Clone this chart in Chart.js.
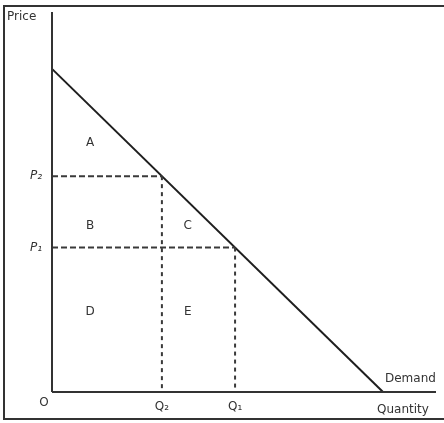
<!DOCTYPE html>
<html>
<head>
<meta charset="utf-8">
<script src="https://cdn.jsdelivr.net/npm/chart.js@4"></script>
<style>
  html,body{margin:0;padding:0;background:#fff;}
  #wrap{width:444px;height:423px;position:relative;}
</style>
</head>
<body>
<div id="wrap"><canvas id="c" width="444" height="423"></canvas></div>
<script>
// ====== データ ======
const demandQ = [0, 10];
const demandP = [10, 0];
const Q2 = 3.32, Q1 = 5.53;
const P2 = 6.68, P1 = 4.47;
const xMax = 11.6, yMax = 11.76;
const xTickValues = [Q2, Q1];
const xTickLabels = ['Q₂', 'Q₁'];
const yTickValues = [P2, P1];
const yTickLabels = ['P₂', 'P₁'];
const areaLabels = ['A', 'B', 'C', 'D', 'E'];
const areaQ = [1.15, 1.15, 4.1, 1.15, 4.1];
const areaP = [7.7, 5.13, 5.13, 2.47, 2.47];

const pts = (xs, ys) => xs.map((x, i) => ({ x, y: ys[i] }));
const line = { borderWidth:2, pointRadius:0, showLine:true, fill:false, clip:false };
const dashH = { ...line, borderColor:'#3a3a3a', borderDash:[6,3] };
const dashV = { ...line, borderColor:'#3a3a3a', borderDash:[4,4] };

// 枠と文字
const labelPlugin = {
  id:'labels',
  beforeDraw(chart){
    const ctx = chart.ctx;
    ctx.save();
    ctx.strokeStyle = '#333';
    ctx.lineWidth = 2;
    ctx.strokeRect(4, 6, 470, 413);
    ctx.restore();
  },
  afterDraw(chart){
    const { ctx, scales:{ x, y } } = chart;
    ctx.save();
    ctx.fillStyle = '#333';
    ctx.textBaseline = 'middle';
    ctx.font = '12px "DejaVu Sans"';
    ctx.textAlign = 'left';
    ctx.fillText('Price', 7, 17);
    ctx.textAlign = 'center';
    ctx.fillText('O', 44, 403);
    xTickValues.forEach((v, i) => ctx.fillText(xTickLabels[i], x.getPixelForValue(v), 407));
    ctx.font = 'italic 12px "DejaVu Sans"';
    yTickValues.forEach((v, i) => ctx.fillText(yTickLabels[i], 36, y.getPixelForValue(v)));
    ctx.font = '12px "DejaVu Sans"';
    areaLabels.forEach((t, i) => ctx.fillText(t, x.getPixelForValue(areaQ[i]), y.getPixelForValue(areaP[i])));
    ctx.textAlign = 'left';
    ctx.fillText('Demand', 385, 379);
    ctx.fillText('Quantity', 377, 410);
    ctx.restore();
  }
};

new Chart(document.getElementById('c').getContext('2d'), {
  type:'scatter',
  data:{
    datasets:[
      // 軸
      { ...line, data:pts([0,0],[0,yMax]), borderColor:'#333' },
      { ...line, data:pts([0,xMax],[0,0]), borderColor:'#333' },
      // 破線
      { ...dashH, data:pts([0,Q2],[P2,P2]) },
      { ...dashH, data:pts([0,Q1],[P1,P1]) },
      { ...dashV, data:pts([Q2,Q2],[P2,0]) },
      { ...dashV, data:pts([Q1,Q1],[P1,0]) },
      // 需要曲線
      { ...line, data:pts(demandQ, demandP), borderColor:'#1e1e1e' }
    ]
  },
  options:{
    responsive:false,
    animation:false,
    layout:{ padding:{ left:52, top:12, right:8, bottom:31 } },
    plugins:{ legend:{ display:false }, tooltip:{ enabled:false } },
    scales:{
      x:{ display:false, min:0, max:xMax },
      y:{ display:false, min:0, max:yMax }
    }
  },
  plugins:[labelPlugin]
});
</script>
</body>
</html>
